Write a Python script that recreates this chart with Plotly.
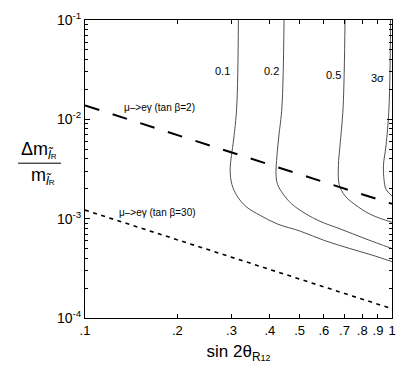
import numpy as np
import plotly.graph_objects as go

# contour lines (sin 2theta, dm/m)
c01_x = [0.316, 0.312, 0.305, 0.300, 0.297, 0.301, 0.313, 0.335, 0.372, 0.425, 0.502, 0.605, 0.730, 0.861, 1.0]
c01_y = [0.1, 0.0133, 0.00634, 0.00433, 0.00309, 0.00221, 0.00169, 0.00132, 0.00108, 0.00088, 0.00075, 0.00060, 0.00050, 0.00043, 0.00037]
c02_x = [0.445, 0.438, 0.428, 0.422, 0.419, 0.424, 0.442, 0.471, 0.521, 0.583, 0.677, 0.817, 1.0]
c02_y = [0.1, 0.0133, 0.00678, 0.00433, 0.00276, 0.00221, 0.00177, 0.00141, 0.00113, 0.00094, 0.00079, 0.00063, 0.00050]
c05_x = [0.703, 0.693, 0.677, 0.669, 0.673, 0.703, 0.777, 0.859, 1.0]
c05_y = [0.1, 0.0133, 0.00542, 0.00346, 0.00221, 0.00170, 0.00131, 0.00109, 0.00092]
c3s_x = [0.989, 0.978, 0.956, 0.938, 0.942, 0.956, 1.0]
c3s_y = [0.1, 0.0133, 0.00542, 0.00346, 0.00247, 0.00198, 0.00169]

contour_names = ["0.1", "0.2", "0.5", "3σ"]
label_x = [0.2815, 0.4065, 0.6425, 0.900]
label_y = [0.0305, 0.0305, 0.0279, 0.0260]

# mu -> e gamma bounds
meg_x = [0.1, 1.0]
meg_tb2_y = [0.0138, 0.00141]
meg_tb30_y = [0.00122, 0.000124]

xtick_vals = [0.1, 0.2, 0.3, 0.4, 0.5, 0.6, 0.7, 0.8, 0.9, 1.0]
xtick_text = [".1", ".2", ".3", ".4", ".5", ".6", ".7", ".8", ".9", "1"]
ytick_vals = [1e-4, 1e-3, 1e-2, 1e-1]
ytick_text = ["10<sup>-4</sup>", "10<sup>-3</sup>", "10<sup>-2</sup>", "10<sup>-1</sup>"]
yminor_vals = [k * 10.0 ** e for e in (-4, -3, -2) for k in range(2, 10)]

FONT = "Liberation Sans, Arial, sans-serif"
fig = go.Figure()

for cx, cy in [(c01_x, c01_y), (c02_x, c02_y), (c05_x, c05_y), (c3s_x, c3s_y)]:
    fig.add_trace(go.Scatter(x=cx, y=cy, mode="lines", line=dict(color="#505050", width=1, shape="spline"),
                             showlegend=False, hoverinfo="skip"))

fig.add_trace(go.Scatter(x=meg_x, y=meg_tb2_y, mode="lines",
                         line=dict(color="black", width=2, dash="15px,14px"), showlegend=False))
fig.add_trace(go.Scatter(x=meg_x, y=meg_tb30_y, mode="lines",
                         line=dict(color="black", width=1.6, dash="4px,4.5px"), showlegend=False))

for name, lx, ly in zip(contour_names, label_x, label_y):
    fig.add_annotation(x=np.log10(lx), y=np.log10(ly), text=name, showarrow=False,
                       font=dict(size=11, color="black", family=FONT))

fig.add_annotation(x=np.log10(0.1317), y=np.log10(0.01328), text="μ–>eγ (tan β=2)", showarrow=False,
                   xanchor="left", font=dict(size=10, color="black", family=FONT))
fig.add_annotation(x=np.log10(0.1269), y=np.log10(0.001153), text="μ–>eγ (tan β=30)", showarrow=False,
                   xanchor="left", font=dict(size=10, color="black", family=FONT))

# y-axis title as a fraction
fig.add_annotation(xref="paper", yref="paper", x=-0.215, y=0.562, showarrow=False, xanchor="left",
                   text="Δm<sub><i>l̃</i><span style='font-size:8px'>R</span></sub>",
                   font=dict(size=18, color="black", family=FONT))
fig.add_shape(type="line", xref="paper", yref="paper", x0=-0.218, x1=-0.078, y0=0.5195, y1=0.5195,
              line=dict(color="black", width=1))
fig.add_annotation(xref="paper", yref="paper", x=-0.182, y=0.474, showarrow=False, xanchor="left",
                   text="m<sub><i>l̃</i><span style='font-size:8px'>R</span></sub>",
                   font=dict(size=18, color="black", family=FONT))

fig.update_xaxes(type="log", range=[-1, 0], tickvals=xtick_vals, ticktext=xtick_text,
                 ticks="inside", ticklen=4, tickcolor="black", showline=True, linecolor="black",
                 linewidth=1, mirror="ticks", showgrid=False, zeroline=False,
                 tickfont=dict(size=13, color="black", family=FONT),
                 title=dict(text="sin 2θ<sub>R<span style='font-size:9px'>12</span></sub>",
                            font=dict(size=17, color="black", family=FONT), standoff=8))
fig.update_yaxes(type="log", range=[-4, -0.9995], tickvals=ytick_vals, ticktext=ytick_text,
                 ticks="inside", ticklen=5, tickcolor="black", showline=True, linecolor="black",
                 linewidth=1, mirror="ticks", showgrid=False, zeroline=False, ticklabeloverflow="allow",
                 minor=dict(tickvals=yminor_vals, ticks="inside", ticklen=3, tickcolor="black", showgrid=False),
                 tickfont=dict(size=14, color="black", family=FONT))

fig.update_layout(width=415, height=371, margin=dict(l=85, r=23, t=10, b=53),
                  plot_bgcolor="white", paper_bgcolor="white", font=dict(family=FONT))

# drop the browser's default body margin so the figure sits at the page corner
fig.write_html("out.html", config={"displayModeBar": False},
               post_script="document.body.style.margin='0';")
